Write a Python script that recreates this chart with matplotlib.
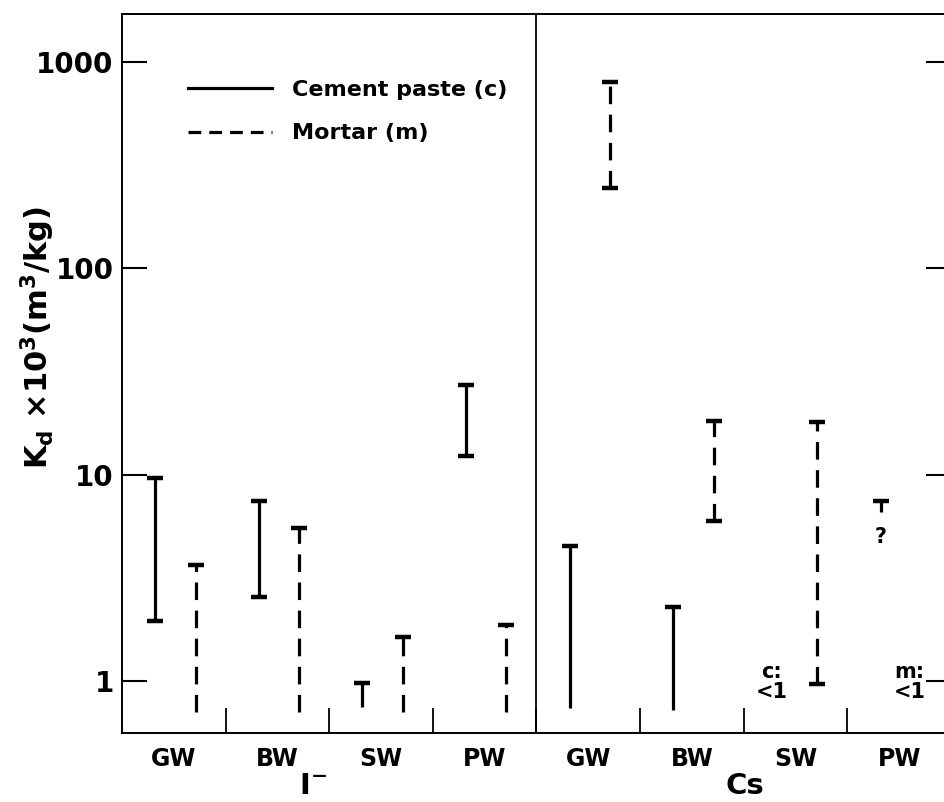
import matplotlib
matplotlib.use("Agg")
import matplotlib.pyplot as plt
from matplotlib.lines import Line2D

plt.rcParams['font.family'] = ['DejaVu Sans']
plt.rcParams['font.weight'] = 'bold'
plt.rcParams['mathtext.fontset'] = 'dejavusans'
plt.rcParams['mathtext.default'] = 'bf'

# ---------------- data ----------------
ions = ["I$^{-}$", "Cs"]
waters = ["GW", "BW", "SW", "PW", "GW", "BW", "SW", "PW"]

# Cement paste (solid) ranges, Kd*10^3 (m3/kg); None = not shown
cement_low = [1.95, 2.55, 0.75, 12.3, 0.74, 0.72, None, 6.6]
cement_high = [9.6, 7.46, 0.98, 27.2, 4.5, 2.28, None, 7.5]
cement_low_capped = [True, True, False, True, False, False, False, False]

# Mortar (dashed) ranges
mortar_low = [0.71, 0.71, 0.71, 0.71, 245, 6.0, 0.97, None]
mortar_high = [3.65, 5.5, 1.63, 1.87, 801, 18.2, 18.0, None]
mortar_low_capped = [False, False, False, False, True, True, True, False]

# notes written in the chart: (group index, text)
notes = [(6, "c:\n<1"), (7, "m:\n<1")]
question_group = 7

yticks = [1, 10, 100, 1000]
ytick_labels = ["1", "10", "100", "1000"]

# ---------------- figure ----------------
W, H = 945, 802
fig = plt.figure(figsize=(W / 100, H / 100), dpi=100)
ax = fig.add_axes([122 / W, (H - 733) / H, (951 - 122) / W, (733 - 14) / H])
ax.set_yscale('log')
ax.set_ylim(0.56, 1711)
ax.set_xlim(0, len(waters))

C_OFF, M_OFF = 0.32, 0.71
LW = 2.3
CAP = dict(marker='_', markersize=11, markeredgewidth=3.2, color='black', linestyle='none')


def draw_range(x, lo, hi, lo_cap, dashed):
    ls = (0, (5.5, 3.3)) if dashed else '-'
    ax.plot([x, x], [lo, hi], color='black', lw=LW, linestyle=ls, solid_capstyle='butt')
    ax.plot([x], [hi], **CAP)
    if lo_cap:
        ax.plot([x], [lo], **CAP)


for i in range(len(waters)):
    if cement_low[i] is not None:
        draw_range(i + C_OFF, cement_low[i], cement_high[i], cement_low_capped[i], False)
    if mortar_low[i] is not None:
        draw_range(i + M_OFF, mortar_low[i], mortar_high[i], mortar_low_capped[i], True)

for gi, txt in notes:
    ax.text(gi + 0.27 if gi == 6 else gi + 0.6, 0.99, txt, ha='center', va='center',
            fontsize=15, fontweight='bold', linespacing=1.0)
ax.text(question_group + C_OFF, 5.0, "?", ha='center', va='center', fontsize=15, fontweight='bold')

# divider between the two ions
ax.axvline(len(waters) / 2, color='black', lw=1.3)

# axes styling
for s in ['left', 'bottom', 'top']:
    ax.spines[s].set_linewidth(1.4)
ax.spines['right'].set_visible(False)

ax.set_yticks(yticks)
ax.set_yticklabels(ytick_labels)
ax.yaxis.set_minor_locator(matplotlib.ticker.NullLocator())
ax.tick_params(axis='y', which='major', direction='in', length=18, width=1.5,
               labelsize=20, pad=6, right=True)

ax.set_xticks(range(1, len(waters)))
ax.set_xticklabels([""] * (len(waters) - 1))
ax.set_xticks([i + 0.5 for i in range(len(waters))], minor=True)
ax.set_xticklabels(waters, minor=True)
ax.tick_params(axis='x', which='major', direction='in', length=18, width=1.3)
ax.tick_params(axis='x', which='minor', length=0, labelsize=17, pad=10)

for k, ion in enumerate(ions):
    xpos = [313, 745][k]
    fig.text(xpos / W, 2 / H, ion, ha='center', va='bottom', fontsize=21, fontweight='bold')

fig.text(38 / W, (H - 337) / H, r"K$_{d}$ $\times$10$^{3}$(m$^{3}$/kg)", rotation=90,
         ha='center', va='center', fontsize=22, fontweight='bold')

handles = [Line2D([], [], color='black', lw=LW),
           Line2D([], [], color='black', lw=LW, linestyle=(0, (4, 2.5)))]
ax.legend(handles, ["Cement paste (c)", "Mortar (m)"], loc='upper left',
          bbox_to_anchor=(188 / W, (H - 80) / H), bbox_transform=fig.transFigure,
          frameon=False, fontsize=16, handlelength=3.8, handletextpad=0.9,
          labelspacing=1.05, borderpad=0, borderaxespad=0)

fig.savefig("out.png", dpi=100)
